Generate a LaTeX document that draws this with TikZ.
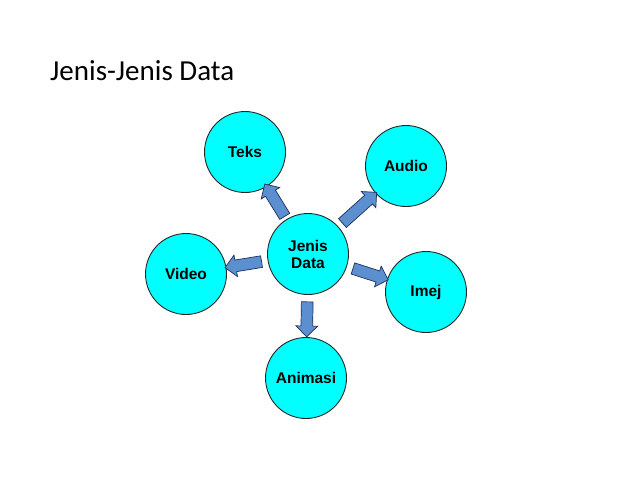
\documentclass[tikz,border=0pt]{standalone}
\usepackage{fontspec}
\setmainfont{Liberation Sans}
\newfontfamily\titlefont{Carlito}
\usetikzlibrary{shapes.arrows}
\definecolor{kindfill}{HTML}{00FFFF}
\definecolor{flowfill}{HTML}{5B8FD0}
\definecolor{flowline}{HTML}{1F2F5A}
\tikzset{
  kind/.style={circle,draw=black!85,fill=kindfill,line width=.9pt,
    minimum size=81pt,align=center,
    font=\fontsize{15.5}{17}\selectfont\bfseries},
  flow/.style={single arrow,draw=flowline,fill=flowfill,line width=.7pt,
    inner sep=5.5pt,single arrow head extend=5pt,minimum height=#1,
    sloped,allow upside down}}

\begin{document}
\begin{tikzpicture}[x=1pt,y=-1pt]
  \useasboundingbox (0,0) rectangle (638,479);

  \node[anchor=base west,inner sep=0pt,font=\titlefont\fontsize{29}{32}\selectfont]
    (title) at (50,80) {Jenis-Jenis Data};

  \node[kind] (data) at (308,254) {Jenis\\Data};
  \node[kind] (teks) at (245,152) {Teks};
  \node[kind] (audio) at (406,166) {Audio};
  \node[kind] (video) at (186,274) {Video};
  \node[kind] (imej) at (426,292) {Imej};
  \node[kind] (anim) at (306,378) {Animasi};

  \path (data) -- node[flow=38pt,pos=.51] {} (teks);
  \path (data) -- node[flow=46pt,pos=.51] {} (audio);
  \path (data) -- node[flow=37pt,pos=.52] {} (video);
  \path (data) -- node[flow=37pt,pos=.52] {} (imej);
  \path (data) -- node[flow=35pt,pos=.51] {} (anim);
\end{tikzpicture}
\end{document}
